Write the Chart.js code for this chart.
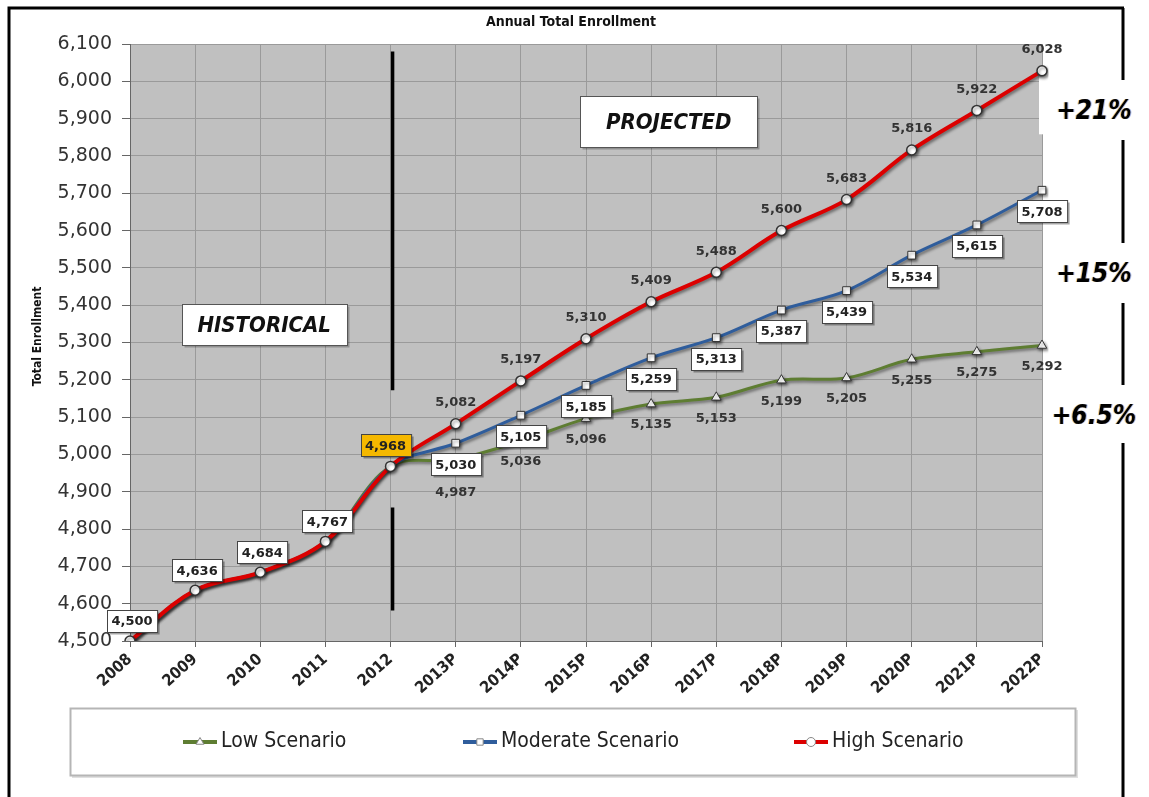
<!DOCTYPE html>
<html>
<head>
<meta charset="utf-8">
<title>Annual Total Enrollment</title>
<script src="https://cdn.jsdelivr.net/npm/chart.js@4.4.0/dist/chart.umd.min.js"></script>
<style>
  html, body { margin: 0; padding: 0; background: #fff; }
  #wrap { width: 1149px; height: 797px; }
</style>
</head>
<body>
<div id="wrap"><canvas id="enrollment-chart" width="1149" height="797"></canvas></div>
<script>
// values
const years = ["2008", "2009", "2010", "2011", "2012", "2013P", "2014P", "2015P", "2016P",
  "2017P", "2018P", "2019P", "2020P", "2021P", "2022P"];
const historical = [4500, 4636, 4684, 4767, 4968];
const lowProjected = [4987, 5036, 5096, 5135, 5153, 5199, 5205, 5255, 5275, 5292];
const moderateProjected = [5030, 5105, 5185, 5259, 5313, 5387, 5439, 5534, 5615, 5708];
const highProjected = [5082, 5197, 5310, 5409, 5488, 5600, 5683, 5816, 5922, 6028];
const seriesNames = ["Low Scenario", "Moderate Scenario", "High Scenario"];
const growthLabels = ["+21%", "+15%", "+6.5%"];
const yMin = 4500, yMax = 6100, yStep = 100;

const COND = '"DejaVu Sans Condensed", "Liberation Sans Narrow", "DejaVu Sans", sans-serif';
const SANS = '"DejaVu Sans", Verdana, sans-serif';
const GREEN = "#5e7d32", BLUE = "#2f5d9c", RED = "#dc0000";

const fmt = (v) => v.toLocaleString("en-US");
const lastHist = historical.length - 1;

function boxLabel(ctx, text, cx, cy, fill) {
  ctx.font = 'bold 13px ' + SANS;
  const w = ctx.measureText(text).width + 9, h = 22;
  const x = Math.round(cx - w / 2) + 0.5, y = Math.round(cy - h / 2) + 0.5;
  ctx.fillStyle = "rgba(0,0,0,0.35)";
  ctx.fillRect(x + 2, y + 2, w, h);
  ctx.fillStyle = fill;
  ctx.fillRect(x, y, w, h);
  ctx.strokeStyle = "#444";
  ctx.lineWidth = 1;
  ctx.strokeRect(x, y, w, h);
  ctx.fillStyle = "#222";
  ctx.textAlign = "center";
  ctx.textBaseline = "middle";
  ctx.fillText(text, cx, cy + 1);
}

function plainLabel(ctx, text, cx, cy) {
  ctx.font = 'bold 13px ' + SANS;
  ctx.fillStyle = "#333";
  ctx.textAlign = "center";
  ctx.textBaseline = "middle";
  ctx.fillText(text, cx, cy);
}

const decorations = {
  id: "decorations",
  beforeDraw(chart) {
    const { ctx, chartArea: a } = chart;
    ctx.save();
    ctx.fillStyle = "#fff";
    ctx.fillRect(0, 0, chart.width, chart.height);
    ctx.fillStyle = "#c0c0c0";
    ctx.fillRect(a.left, a.top, a.right - a.left, a.bottom - a.top);
    ctx.restore();
  },
  beforeDatasetsDraw(chart) {
    const { ctx, chartArea: a } = chart;
    const x = chart.scales.x, y = chart.scales.y;
    ctx.save();
    // white patch behind the top growth note
    ctx.fillStyle = "#fff";
    ctx.fillRect(a.right - 3, y.getPixelForValue(6032), 80, y.getPixelForValue(5858) - y.getPixelForValue(6032));

    // divider between historical and projected
    const dx = x.getPixelForValue(lastHist) + 2;
    ctx.strokeStyle = "#000";
    ctx.lineWidth = 3.5;
    ctx.beginPath();
    ctx.moveTo(dx, y.getPixelForValue(6080));
    ctx.lineTo(dx, y.getPixelForValue(5172));
    ctx.moveTo(dx, y.getPixelForValue(4858));
    ctx.lineTo(dx, y.getPixelForValue(4582));
    ctx.stroke();

    // region boxes
    const regions = [
      { text: "HISTORICAL", at: 2.06, value: 5347, w: 165, h: 41 },
      { text: "PROJECTED", at: 8.27, value: 5891, w: 177, h: 51 }
    ];
    regions.forEach((r) => {
      const cx = x.getPixelForValue(r.at), cy = y.getPixelForValue(r.value);
      const bx = Math.round(cx - r.w / 2) + 0.5, by = Math.round(cy - r.h / 2) + 0.5;
      ctx.fillStyle = "rgba(0,0,0,0.25)";
      ctx.fillRect(bx + 2, by + 2, r.w, r.h);
      ctx.fillStyle = "#fff";
      ctx.fillRect(bx, by, r.w, r.h);
      ctx.strokeStyle = "#555";
      ctx.lineWidth = 1;
      ctx.strokeRect(bx, by, r.w, r.h);
      ctx.fillStyle = "#111";
      ctx.font = 'italic bold 22px ' + COND;
      ctx.textAlign = "center";
      ctx.textBaseline = "middle";
      ctx.fillText(r.text, cx, cy + 1);
    });
    ctx.restore();
  },
  beforeDatasetDraw(chart) {
    const c = chart.ctx;
    c.save();
    c.shadowColor = "rgba(0,0,0,0.45)";
    c.shadowBlur = 3;
    c.shadowOffsetX = 1.5;
    c.shadowOffsetY = 2;
  },
  afterDatasetDraw(chart) {
    chart.ctx.restore();
  },
  afterDraw(chart) {
    const { ctx, chartArea: a } = chart;
    const y = chart.scales.y;
    const low = chart.getDatasetMeta(0).data;
    const mod = chart.getDatasetMeta(1).data;
    const high = chart.getDatasetMeta(2).data;
    ctx.save();

    // data labels
    for (let i = 0; i < years.length; i++) {
      if (i < lastHist) {
        boxLabel(ctx, fmt(historical[i]), high[i].x + 2, high[i].y - 20, "#fff");
      } else if (i === lastHist) {
        boxLabel(ctx, fmt(historical[i]), high[i].x - 5, high[i].y - 21, "#f5b800");
      } else {
        const j = i - historical.length;
        plainLabel(ctx, fmt(highProjected[j]), high[i].x, high[i].y - 21);
        boxLabel(ctx, fmt(moderateProjected[j]), mod[i].x, mod[i].y + 21, "#fff");
        plainLabel(ctx, fmt(lowProjected[j]), low[i].x, low[i].y + (j === 0 ? 33 : 21));
      }
    }

    // growth notes on the right
    const notes = [5918, 5481, 5100];
    ctx.font = 'italic bold 26px ' + COND;
    ctx.textAlign = "center";
    ctx.textBaseline = "middle";
    growthLabels.forEach((t, k) => {
      const gy = y.getPixelForValue(notes[k]);
      ctx.fillStyle = "rgba(230,160,40,0.55)";
      ctx.fillText(t, a.right + 51, gy);
      ctx.fillStyle = "rgba(40,80,200,0.4)";
      ctx.fillText(t, a.right + 53, gy);
      ctx.fillStyle = "#000";
      ctx.fillText(t, a.right + 52, gy);
    });

    // title and axis title
    ctx.fillStyle = "#111";
    ctx.font = 'bold 14px ' + COND;
    ctx.fillText("Annual Total Enrollment", 571, 22);
    ctx.save();
    ctx.translate(38, (a.top + a.bottom) / 2 - 6);
    ctx.rotate(-Math.PI / 2);
    ctx.font = 'bold 12px ' + COND;
    ctx.fillText("Total Enrollment", 0, 0);
    ctx.restore();

    // legend
    ctx.fillStyle = "rgba(0,0,0,0.12)";
    ctx.fillRect(72, 710, 1006, 68);
    ctx.fillStyle = "#fff";
    ctx.fillRect(70.5, 708.5, 1005, 67);
    ctx.strokeStyle = "#b5b5b5";
    ctx.lineWidth = 2;
    ctx.strokeRect(70.5, 708.5, 1005, 67);
    const items = [
      { x: 183, color: GREEN, style: "triangle" },
      { x: 463, color: BLUE, style: "rect" },
      { x: 794, color: RED, style: "circle" }
    ];
    items.forEach((it, k) => {
      const ly = 742;
      ctx.strokeStyle = it.color;
      ctx.lineWidth = 4;
      ctx.beginPath();
      ctx.moveTo(it.x, ly);
      ctx.lineTo(it.x + 34, ly);
      ctx.stroke();
      ctx.fillStyle = "#fff";
      ctx.strokeStyle = "#888";
      ctx.lineWidth = 1;
      Chart.helpers.drawPoint(ctx, { pointStyle: it.style, radius: 4.5, borderWidth: 1 }, it.x + 17, ly);
      ctx.fillStyle = "#222";
      ctx.font = '21px ' + COND;
      ctx.textAlign = "left";
      ctx.textBaseline = "middle";
      ctx.fillText(seriesNames[k], it.x + 38, ly);
    });

    // outer frame
    ctx.strokeStyle = "#000";
    ctx.lineWidth = 3;
    ctx.beginPath();
    ctx.moveTo(9, 797);
    ctx.lineTo(9, 8);
    ctx.lineTo(1124, 8);
    [[8, 80], [140, 243], [303, 385], [443, 797]].forEach(([a1, b1]) => {
      ctx.moveTo(1123, a1);
      ctx.lineTo(1123, b1);
    });
    ctx.stroke();
    ctx.restore();
  }
};

const hiddenHistory = (r) => (ctx) => (ctx.dataIndex < historical.length ? 0 : r);

const ctx = document.getElementById("enrollment-chart");
new Chart(ctx, {
  type: "line",
  data: {
    labels: years,
    datasets: [
      {
        label: seriesNames[0],
        data: historical.concat(lowProjected),
        borderColor: GREEN,
        borderWidth: 3,
        pointStyle: "triangle",
        pointRadius: hiddenHistory(5.5),
        pointBackgroundColor: "#fff",
        pointBorderColor: "#333",
        pointBorderWidth: 1,
        tension: 0.35,
        order: 2
      },
      {
        label: seriesNames[1],
        data: historical.concat(moderateProjected),
        borderColor: BLUE,
        borderWidth: 3,
        pointStyle: "rect",
        pointRadius: hiddenHistory(5.5),
        pointBackgroundColor: "#fff",
        pointBorderColor: "#333",
        pointBorderWidth: 1,
        tension: 0.35,
        order: 1
      },
      {
        label: seriesNames[2],
        data: historical.concat(highProjected),
        borderColor: RED,
        borderWidth: 4,
        pointStyle: "circle",
        pointRadius: 5,
        pointBackgroundColor: "#fff",
        pointBorderColor: "#333",
        pointBorderWidth: 1.5,
        tension: 0.35,
        order: 0
      }
    ]
  },
  options: {
    responsive: false,
    animation: false,
    layout: { padding: { left: 0, right: 107, top: 44, bottom: 0 } },
    plugins: {
      legend: { display: false },
      title: { display: false },
      tooltip: { enabled: false }
    },
    scales: {
      x: {
        offset: false,
        grid: { color: "#9a9a9a", tickLength: 6, tickColor: "#666" },
        border: { color: "#666" },
        ticks: {
          autoSkip: false,
          minRotation: 42,
          maxRotation: 42,
          padding: 3,
          color: "#222",
          font: { family: COND, size: 16, weight: "bold" }
        },
        afterFit: (s) => { s.height = 156; }
      },
      y: {
        min: yMin,
        max: yMax,
        grid: { color: "#9a9a9a", tickLength: 8, tickColor: "#666" },
        border: { color: "#666" },
        ticks: {
          stepSize: yStep,
          padding: 10,
          color: "#333",
          font: { family: SANS, size: 19 },
          callback: (v) => fmt(v)
        },
        afterFit: (s) => { s.width = 130; }
      }
    }
  },
  plugins: [decorations]
});
</script>
</body>
</html>
